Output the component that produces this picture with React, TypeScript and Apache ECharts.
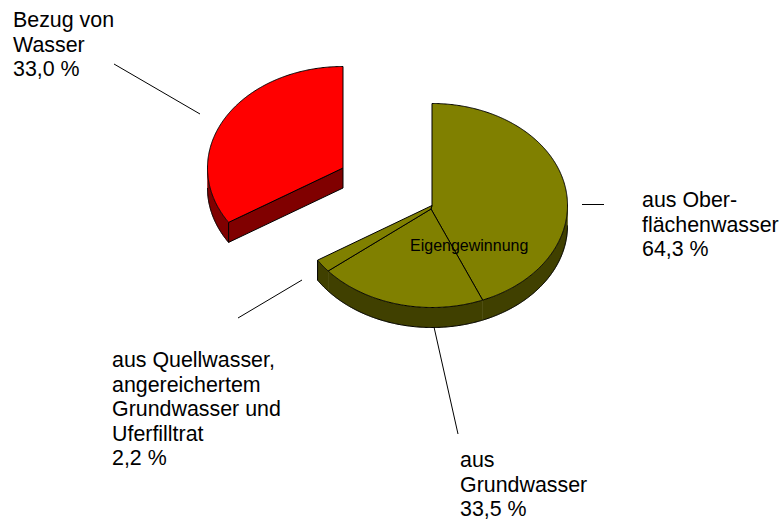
import React, { useEffect, useRef } from "react";
import * as echarts from "echarts";

// Labelled shares and the proportions of the drawn slices (percent of full circle)
const sliceNames = ["aus Oberflächenwasser", "aus Grundwasser", "aus Quellwasser", "Bezug von Wasser"];
const sliceShares = [43.9, 20.0, 2.1, 34.0];

const labelTexts = [
  "Bezug von\nWasser\n33,0 %",
  "aus Ober-\nflächenwasser\n64,3 %",
  "aus Quellwasser,\nangereichertem\nGrundwasser und\nUferfilltrat\n2,2 %",
  "aus\nGrundwasser\n33,5 %",
];
const centerLabel = "Eigengewinnung";

const labelPos = [
  [13, 8],
  [642, 188],
  [112, 348],
  [460, 448],
];
const leaderLines = [
  [114, 64, 200, 114],
  [582, 204.5, 604, 204.5],
  [238, 318, 302, 280],
  [434, 327, 458, 434],
];

const topColors = ["#808000", "#808000", "#808000", "#ff0000"];
const sideColors = ["#404000", "#404000", "#404000", "#800000"];
const mainPie = { cx: 432, cy: 205.5, rx: 135.5, ry: 102 };
const redPie = { cx: 343, cy: 168, rx: 135.5, ry: 101.5 };
const seam = [431, 209];
const DEPTH = 20;

const total = sliceShares.reduce((a, b) => a + b, 0);
const startDeg = (i: number) => (sliceShares.slice(0, i).reduce((a, b) => a + b, 0) / total) * 360;

function pt(p: any, deg: number, dy = 0) {
  const r = (deg * Math.PI) / 180;
  return [p.cx + p.rx * Math.sin(r), p.cy - p.ry * Math.cos(r) + dy];
}
function arc(p: any, a: number, b: number, dy = 0) {
  const out: number[][] = [];
  const n = Math.max(2, Math.ceil(Math.abs(b - a) * 2));
  for (let i = 0; i <= n; i++) out.push(pt(p, a + ((b - a) * i) / n, dy));
  return out;
}

function renderSlice(params: any, api: any) {
  const i = params.dataIndex;
  const a = startDeg(i);
  const b = a + (api.value(0) / total) * 360;
  const p = i === 3 ? redPie : mainPie;
  const center = [p.cx, p.cy];
  const lineStyle = { stroke: "#000", lineWidth: 1, lineJoin: "round" };
  const side = { ...lineStyle, fill: sideColors[i] };
  const top = { ...lineStyle, fill: topColors[i] };
  const children: any[] = [];
  const polyEl = (pts: number[][], style: any) => ({
    type: "polygon",
    shape: { points: pts },
    style,
  });
  const lineEl = (pts: number[][]) => ({
    type: "polyline",
    shape: { points: pts },
    style: { ...lineStyle, fill: "none" },
  });
  // outer wall: only the lower half of the rim faces the viewer
  const wa = Math.max(a, 90);
  const wb = Math.min(b, 270);
  if (wb > wa) {
    children.push(
      polyEl([...arc(p, wa, wb), ...arc(p, wb, wa, DEPTH)], {
        fill: sideColors[i],
        stroke: sideColors[i],
        lineWidth: 0.5,
      })
    );
    children.push(lineEl(arc(p, wa, wb, DEPTH)));
    if (i === 2) children.push(lineEl([pt(p, b), pt(p, b, DEPTH)]));
  }
  // cut face of the detached slice
  if (i === 3) {
    children.push(
      polyEl([pt(p, a), center, [center[0], center[1] + DEPTH], pt(p, a, DEPTH)], side)
    );
  }
  const head = i === 0 || i === 3 ? [center] : [seam];
  const tail = i === 2 || i === 3 ? [center] : [seam];
  children.push(polyEl([...head, ...arc(p, a, b), ...tail], top));
  return { type: "group", children };
}

export default function App() {
  const ref = useRef<HTMLDivElement>(null);
  useEffect(() => {
    document.body.style.margin = "0";
    const chart = echarts.init(ref.current!, undefined, { renderer: "svg" });
    chart.setOption({
      animation: false,
      backgroundColor: "#ffffff",
      series: [
        {
          type: "custom",
          coordinateSystem: "none",
          renderItem: renderSlice,
          silent: true,
          data: sliceShares.map((v, i) => ({ name: sliceNames[i], value: [v] })),
        },
      ],
      graphic: [
        ...leaderLines.map((l) => ({
          type: "line",
          shape: { x1: l[0], y1: l[1], x2: l[2], y2: l[3] },
          style: { stroke: "#000", lineWidth: 1 },
          z: 5,
        })),
        ...labelTexts.map((t, i) => ({
          type: "text",
          x: labelPos[i][0],
          y: labelPos[i][1],
          style: {
            text: t,
            fill: "#000",
            font: '21.4px "Liberation Sans", Arial, sans-serif',
            lineHeight: 24.5,
            textAlign: "left",
            textVerticalAlign: "top",
          },
          z: 6,
        })),
        {
          type: "text",
          x: 410,
          y: 237.5,
          style: {
            text: centerLabel,
            fill: "#000",
            font: '16px "Liberation Sans", Arial, sans-serif',
            textAlign: "left",
            textVerticalAlign: "top",
          },
          z: 6,
        },
      ],
    });
    return () => chart.dispose();
  }, []);
  return <div ref={ref} style={{ width: 784, height: 521 }} />;
}
